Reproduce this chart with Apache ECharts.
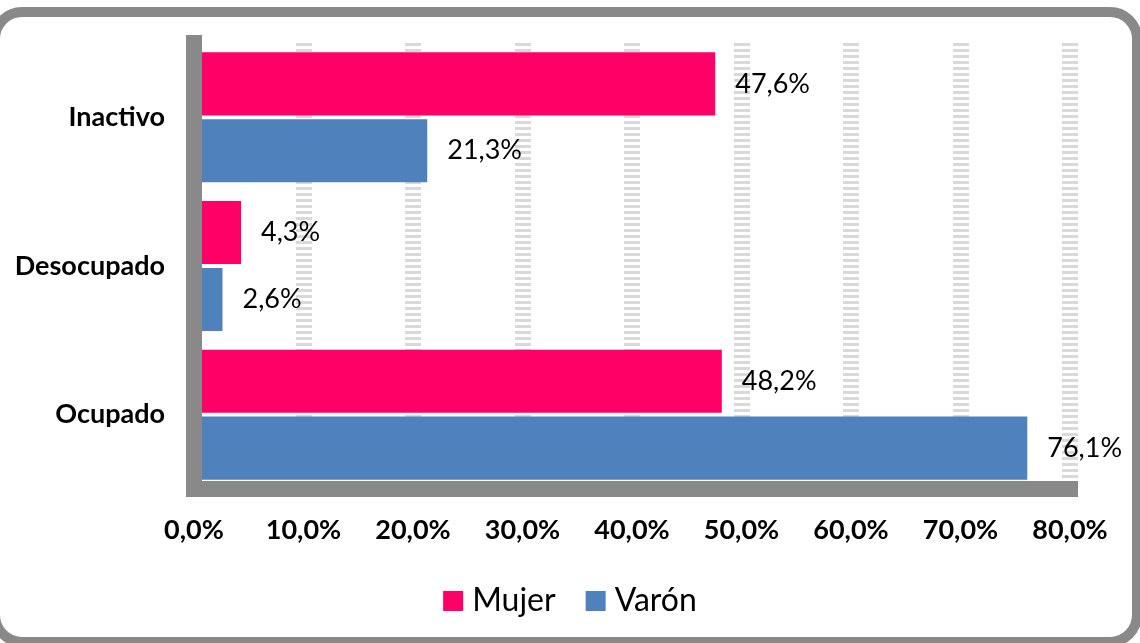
<!DOCTYPE html>
<html>
<head>
<meta charset="utf-8">
<script src="https://cdn.jsdelivr.net/npm/echarts@6/dist/echarts.min.js"></script>
<style>
  html, body { margin: 0; padding: 0; background: #fff; overflow: hidden; }
  #frame {
    position: absolute; left: -10px; top: 7px; width: 1132px; height: 620px;
    border: 10px solid #898989; border-radius: 32px; background: #fff;
  }
  #chart { position: absolute; left: 0; top: 0; width: 1140px; height: 643px; }
</style>
</head>
<body>
<div id="frame"></div>
<div id="chart"></div>
<script>
// categorias de abajo hacia arriba (eje y)
var categorias = ['Ocupado', 'Desocupado', 'Inactivo'];
var mujer = [48.2, 4.3, 47.6];
var varon = [76.1, 2.6, 21.3];

var fuente = 'Lato';

function pct(v) {
    return v.toFixed(1).replace('.', ',') + '%';
}

var etiqueta = {
    show: true,
    position: 'right',
    distance: 20,
    fontFamily: fuente,
    fontSize: 27,
    color: '#000',
    formatter: function (p) { return pct(p.value); }
};

var chart = echarts.init(document.getElementById('chart'));

var option = {
    animation: false,
    backgroundColor: 'transparent',
    grid: { left: 194, right: 70, top: 43, bottom: 154 },
    legend: {
        data: ['Mujer', 'Varón'],
        top: 580,
        left: 'center',
        itemWidth: 20,
        itemHeight: 20,
        itemGap: 30,
        icon: 'rect',
        textStyle: { fontFamily: fuente, fontSize: 32, color: '#000', padding: [0, 0, 0, 4] }
    },
    xAxis: {
        type: 'value',
        min: 0,
        max: 80,
        interval: 10,
        axisLine: { show: true, lineStyle: { color: '#898989', width: 16, cap: 'square' } },
        axisTick: { show: false },
        axisLabel: {
            margin: 28,
            fontFamily: fuente,
            fontSize: 27,
            fontWeight: 'bold',
            color: '#000',
            formatter: function (v) { return pct(v); }
        },
        splitLine: {
            show: true,
            lineStyle: { color: '#d9d9d9', width: 16, type: [3, 3] }
        }
    },
    yAxis: {
        type: 'category',
        data: categorias,
        z: 5,
        axisLine: { show: true, lineStyle: { color: '#898989', width: 16, cap: 'square' } },
        axisTick: { show: false },
        axisLabel: {
            margin: 29,
            fontFamily: fuente,
            fontSize: 27,
            fontWeight: 'bold',
            color: '#000'
        }
    },
    series: [
        {
            name: 'Mujer',
            type: 'bar',
            data: mujer,
            barGap: '6%',
            barCategoryGap: '12.6%',
            itemStyle: { color: '#ff0066' },
            label: etiqueta
        },
        {
            name: 'Varón',
            type: 'bar',
            data: varon,
            barGap: '6%',
            barCategoryGap: '12.6%',
            itemStyle: { color: '#4f81bd' },
            label: etiqueta
        }
    ]
};

chart.setOption(option);
</script>
</body>
</html>
